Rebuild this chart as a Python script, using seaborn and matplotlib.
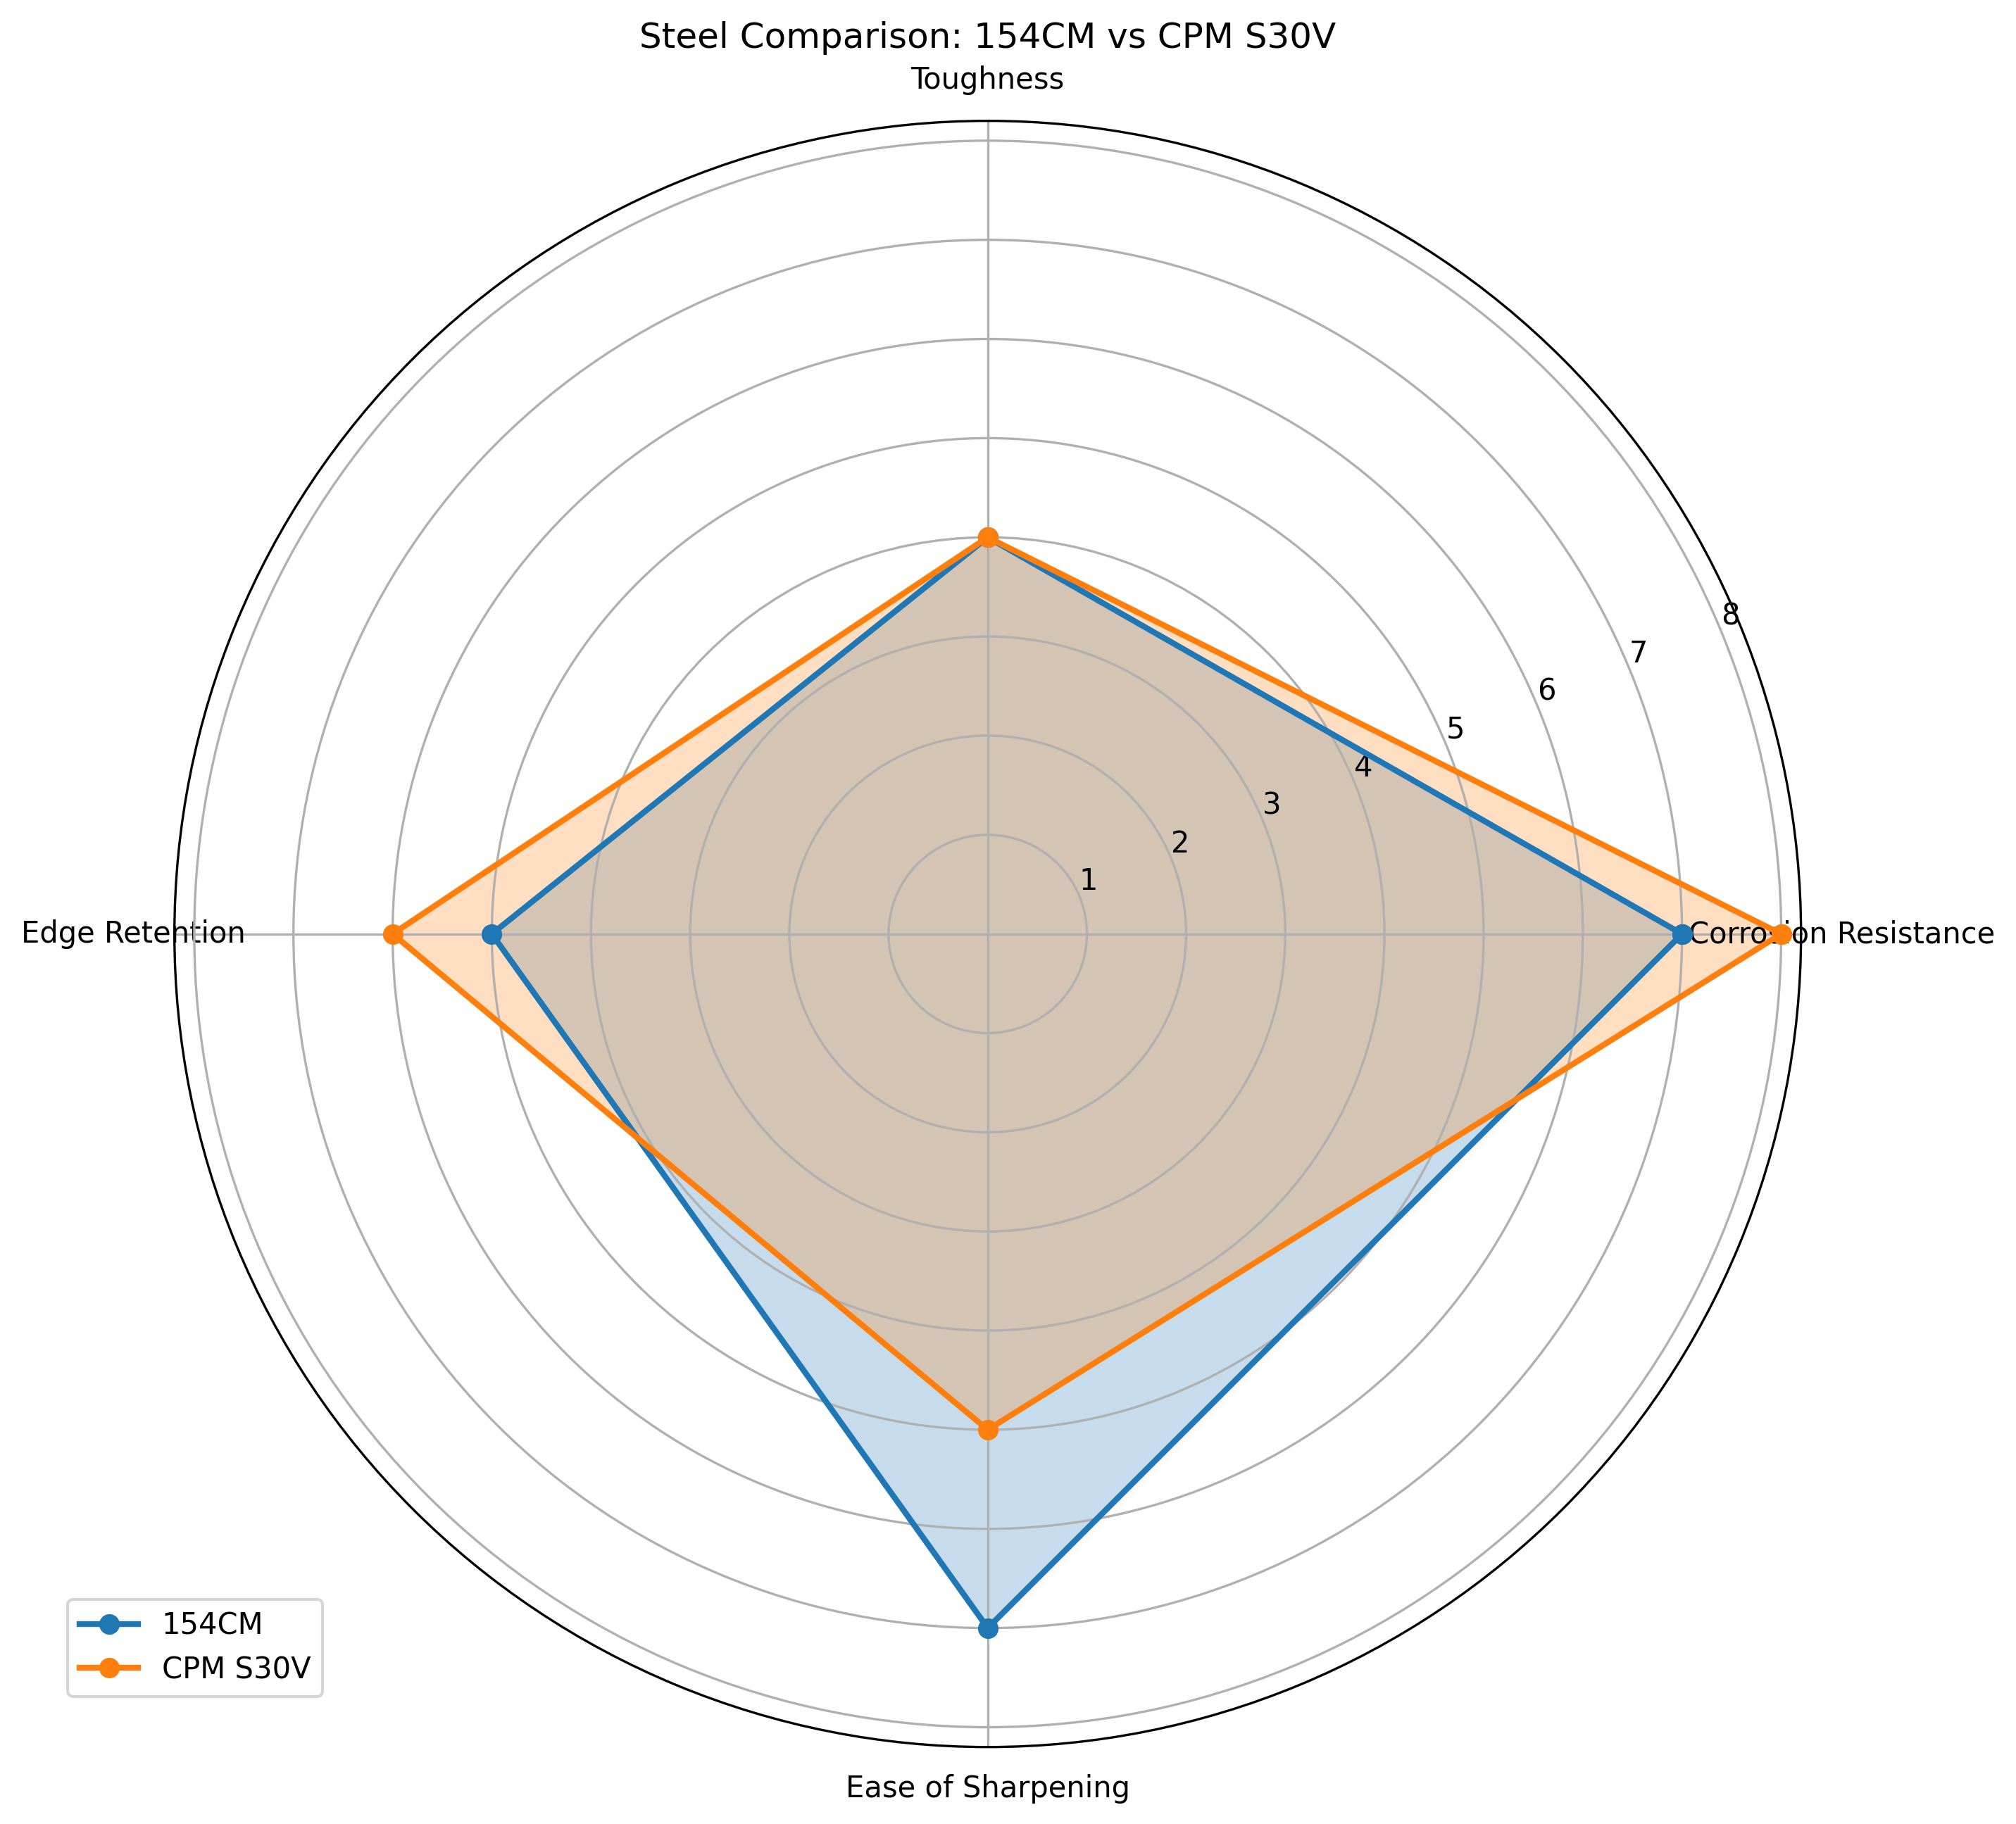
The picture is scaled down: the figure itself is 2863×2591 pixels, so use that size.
import numpy as np
import matplotlib
matplotlib.use("Agg")
import matplotlib.pyplot as plt
import seaborn as sns

# data
categories = ["Corrosion Resistance", "Toughness", "Edge Retention", "Ease of Sharpening"]
steel_154cm = [7, 4, 5, 7]
steel_s30v = [8, 4, 6, 5]
series_names = ["154CM", "CPM S30V"]

colors = sns.color_palette("tab10", 2)

angles = np.linspace(0, 2 * np.pi, len(categories), endpoint=False).tolist()
angles += angles[:1]

fig, ax = plt.subplots(figsize=(11, 10), subplot_kw=dict(polar=True))

for name, vals, c in zip(series_names, [steel_154cm, steel_s30v], colors):
    v = vals + vals[:1]
    ax.plot(angles, v, 'o-', linewidth=2, color=c, label=name)
    ax.fill(angles, v, alpha=0.25, color=c)

ax.set_xticks(angles[:-1])
ax.set_xticklabels(categories)
ax.set_title("Steel Comparison: 154CM vs CPM S30V")
ax.legend(loc="upper right", bbox_to_anchor=(0.1, 0.1))

plt.savefig("out.png", dpi=300, bbox_inches="tight")
